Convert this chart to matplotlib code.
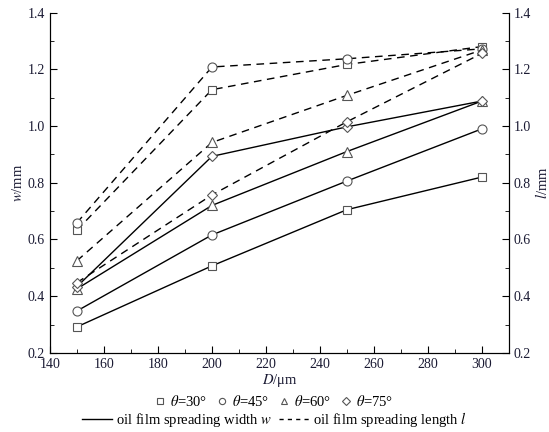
import matplotlib.pyplot as plt
from matplotlib.lines import Line2D
from matplotlib.ticker import MultipleLocator

plt.rcParams['font.family'] = ['Liberation Serif', 'DejaVu Serif']
plt.rcParams['mathtext.fontset'] = 'stix'
plt.rcParams['font.size'] = 10.5

D = [150, 200, 250, 300]
angles = ['30', '45', '60', '75']
markers = ['s', 'o', '^', 'D']
msizes = [5.5, 6.5, 6.5, 5.5]

# oil film spreading width w (mm)
w_30 = [0.292, 0.507, 0.705, 0.820]
w_45 = [0.348, 0.616, 0.806, 0.990]
w_60 = [0.426, 0.720, 0.910, 1.088]
w_75 = [0.434, 0.893, 0.997, 1.088]

# oil film spreading length l (mm)
l_30 = [0.633, 1.128, 1.217, 1.280]
l_45 = [0.659, 1.208, 1.237, 1.272]
l_60 = [0.525, 0.942, 1.108, 1.268]
l_75 = [0.448, 0.757, 1.015, 1.256]

w_all = [w_30, w_45, w_60, w_75]
l_all = [l_30, l_45, l_60, l_75]

fig = plt.figure(figsize=(5.49, 4.32), dpi=100)
ax = fig.add_axes([0.091, 0.183, 0.836, 0.788])

mk_edge = '#555555'
txt = '#1a1a33'
for i in range(4):
    ax.plot(D, w_all[i], '-', color='black', lw=1.0,
            marker=markers[i], ms=msizes[i], mfc='white', mec=mk_edge, mew=0.8)
    ax.plot(D, l_all[i], '--', color='black', lw=1.0, dashes=(5.5, 4),
            marker=markers[i], ms=msizes[i], mfc='white', mec=mk_edge, mew=0.8)

ax.set_xlim(140, 310)
ax.set_ylim(0.2, 1.4)
ax.xaxis.set_major_locator(MultipleLocator(20))
ax.xaxis.set_minor_locator(MultipleLocator(10))
ax.yaxis.set_major_locator(MultipleLocator(0.2))
ax.yaxis.set_minor_locator(MultipleLocator(0.1))
ax.yaxis.set_major_formatter(plt.FuncFormatter(lambda v, p: f'{v:.1f}'))
ax.tick_params(which='both', direction='in', right=False, top=False, color='black',
               labelcolor=txt, labelsize=10)
ax.tick_params(which='major', length=5)
ax.tick_params(which='minor', length=3)
ax.spines['top'].set_visible(False)

ax2 = ax.twinx()
ax2.set_ylim(0.2, 1.4)
ax2.yaxis.set_major_locator(MultipleLocator(0.2))
ax2.yaxis.set_minor_locator(MultipleLocator(0.1))
ax2.yaxis.set_major_formatter(plt.FuncFormatter(lambda v, p: f'{v:.1f}'))
ax2.tick_params(which='both', direction='in', labelcolor=txt, labelsize=10)
ax2.tick_params(which='major', length=5)
ax2.tick_params(which='minor', length=3)
ax2.spines['top'].set_visible(False)

ax.set_xlabel(r'$D$/μm', labelpad=1, color=txt)
ax.set_ylabel(r'$w$/mm', labelpad=2, color=txt)
ax2.set_ylabel(r'$l$/mm', labelpad=2, color=txt)

h1 = [Line2D([], [], ls='none', marker=markers[i], ms=4.5, mfc='white', mec=mk_edge, mew=0.8)
      for i in range(4)]
lab1 = [rf'$\theta$={a}°' for a in angles]
fig.legend(h1, lab1, loc='center', bbox_to_anchor=(0.5, 0.071), ncol=4, frameon=False,
           handlelength=0.6, handletextpad=0.4, columnspacing=0.7, borderpad=0.1)

h2 = [Line2D([], [], ls='-', color='black', lw=1.0),
      Line2D([], [], ls='--', color='black', lw=1.0, dashes=(3, 3))]
lab2 = [r'oil film spreading width $w$', r'oil film spreading length $l$']
fig.legend(h2, lab2, loc='center', bbox_to_anchor=(0.5, 0.029), ncol=2, frameon=False,
           handlelength=2.1, handletextpad=0.25, columnspacing=0.5, borderpad=0.1)

fig.savefig('out.png', dpi=100)
